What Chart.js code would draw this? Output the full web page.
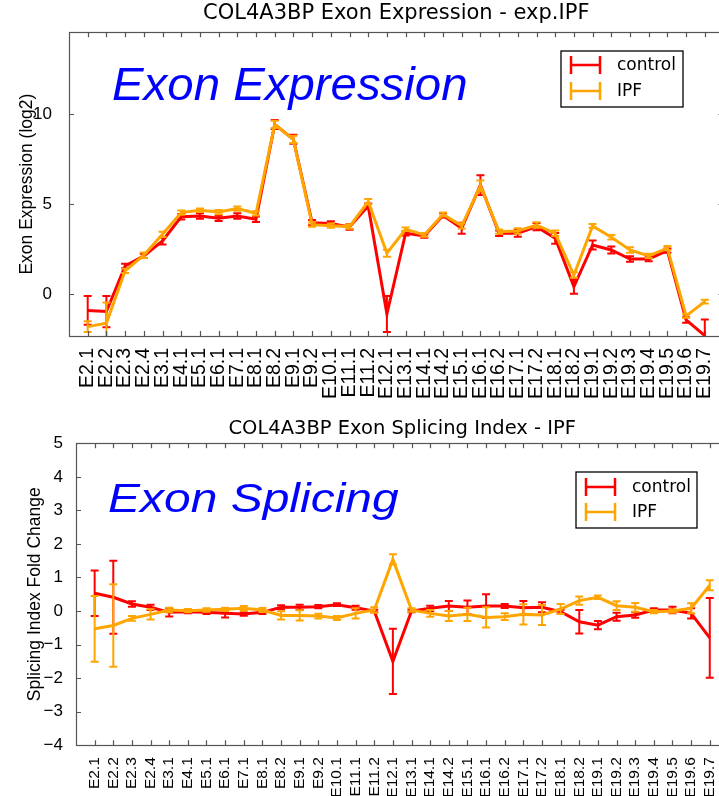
<!DOCTYPE html>
<html>
<head>
<meta charset="utf-8">
<script src="https://cdn.jsdelivr.net/npm/chart.js@4.4.1/dist/chart.umd.min.js"></script>
<style>
  html, body { margin: 0; padding: 0; background: #fff; overflow: hidden; width: 719px; height: 796px; }
  canvas { position: absolute; left: 0; }
  #expr { top: 0; }
  #splice { top: 400px; }
</style>
</head>
<body>
<canvas id="expr" width="740" height="400"></canvas>
<canvas id="splice" width="740" height="396"></canvas>
<script>
// exon ids along the x axis
const exons = ['E2.1', 'E2.2', 'E2.3', 'E2.4', 'E3.1', 'E4.1', 'E5.1', 'E6.1', 'E7.1', 'E8.1',
  'E8.2', 'E9.1', 'E9.2', 'E10.1', 'E11.1', 'E11.2', 'E12.1', 'E13.1', 'E14.1', 'E14.2',
  'E15.1', 'E16.1', 'E16.2', 'E17.1', 'E17.2', 'E18.1', 'E18.2', 'E19.1', 'E19.2', 'E19.3',
  'E19.4', 'E19.5', 'E19.6', 'E19.7'];

// exon expression (log2)
const exprControl = [-0.9, -0.96, 1.57, 2.13, 2.96, 4.31, 4.35, 4.22, 4.35, 4.17,
  9.44, 8.61, 3.98, 3.94, 3.74, 4.9, -1.1, 3.39, 3.24, 4.38,
  3.67, 6.07, 3.39, 3.39, 3.76, 3.11, 0.43, 2.74, 2.46, 1.96,
  1.96, 2.43, -1.43, -2.3];
const exprControlErr = [0.8, 0.87, 0.12, 0.12, 0.2, 0.15, 0.15, 0.15, 0.15, 0.15,
  0.25, 0.25, 0.15, 0.12, 0.15, 0.15, 1.0, 0.12, 0.1, 0.12,
  0.3, 0.55, 0.15, 0.2, 0.2, 0.3, 0.4, 0.25, 0.2, 0.15,
  0.12, 0.12, 0.15, 0.9];
const exprIPF = [-1.8, -1.61, 1.3, 2.17, 3.33, 4.54, 4.67, 4.57, 4.76, 4.5,
  9.44, 8.61, 3.87, 3.81, 3.76, 5.15, 2.28, 3.61, 3.3, 4.44,
  3.8, 6.02, 3.48, 3.52, 3.85, 3.39, 1.07, 3.8, 3.17, 2.46,
  2.13, 2.56, -1.2, -0.41];
const exprIPFErr = [0.3, 1.15, 0.12, 0.15, 0.15, 0.12, 0.1, 0.12, 0.12, 0.12,
  0.2, 0.2, 0.12, 0.12, 0.12, 0.15, 0.2, 0.1, 0.1, 0.1,
  0.15, 0.3, 0.12, 0.15, 0.15, 0.15, 0.15, 0.1, 0.12, 0.15,
  0.12, 0.12, 0.1, 0.1];
const exprTicks = [0, 5, 10];

// splicing index fold change
const spliceControl = [0.53, 0.41, 0.21, 0.11, -0.04, -0.02, -0.04, -0.07, -0.09, -0.04,
  0.11, 0.11, 0.13, 0.19, 0.1, 0, -1.5, 0, 0.08, 0.15,
  0.11, 0.15, 0.15, 0.1, 0.11, -0.02, -0.32, -0.42, -0.17, -0.12,
  0.03, 0.03, -0.07, -0.8];
const spliceControlErr = [0.68, 1.09, 0.08, 0.08, 0.12, 0.05, 0.05, 0.12, 0.05, 0.05,
  0.06, 0.08, 0.05, 0.04, 0.06, 0.04, 0.97, 0.04, 0.08, 0.15,
  0.2, 0.35, 0.06, 0.2, 0.15, 0.06, 0.35, 0.12, 0.12, 0.08,
  0.05, 0.1, 0.15, 1.19];
const spliceIPF = [-0.53, -0.43, -0.22, -0.1, 0.03, 0.01, 0.03, 0.05, 0.08, 0.03,
  -0.13, -0.13, -0.15, -0.21, -0.07, 0.03, 1.54, 0.03, -0.07, -0.15,
  -0.1, -0.19, -0.17, -0.1, -0.12, 0.06, 0.31, 0.41, 0.16, 0.11,
  -0.02, 0, 0.08, 0.77];
const spliceIPFErr = [0.98, 1.23, 0.07, 0.15, 0.07, 0.05, 0.05, 0.05, 0.07, 0.06,
  0.12, 0.15, 0.07, 0.06, 0.15, 0.08, 0.15, 0.05, 0.1, 0.15,
  0.2, 0.3, 0.1, 0.3, 0.3, 0.15, 0.12, 0.05, 0.13, 0.13,
  0.05, 0.05, 0.15, 0.15];
const spliceTicks = [-4, -3, -2, -1, 0, 1, 2, 3, 4, 5];

const RED = '#ff0000';
const ORANGE = '#ffa500';

// error bars, matplotlib style box with inward ticks, big label and legend
const decor = {
  id: 'decor',
  afterDatasetDraw(chart, args) {
    const ds = chart.data.datasets[args.index];
    const yScale = chart.scales.y;
    const a = chart.chartArea;
    const ctx = chart.ctx;
    ctx.save();
    ctx.beginPath();
    ctx.rect(a.left, a.top, a.right - a.left, a.bottom - a.top);
    ctx.clip();
    ctx.strokeStyle = ds.borderColor;
    ctx.lineWidth = 2;
    args.meta.data.forEach((pt, i) => {
      const v = ds.data[i].y, e = ds.errors[i];
      const y1 = yScale.getPixelForValue(v + e);
      const y2 = yScale.getPixelForValue(v - e);
      ctx.beginPath();
      ctx.moveTo(pt.x, y1); ctx.lineTo(pt.x, y2);
      ctx.moveTo(pt.x - 4, y1); ctx.lineTo(pt.x + 4, y1);
      ctx.moveTo(pt.x - 4, y2); ctx.lineTo(pt.x + 4, y2);
      ctx.stroke();
    });
    ctx.restore();
  },
  afterDatasetsDraw(chart) {
    const ctx = chart.ctx;
    const { left, right, top, bottom } = chart.chartArea;
    const xs = chart.scales.x, ys = chart.scales.y;
    ctx.save();
    ctx.strokeStyle = '#555';
    ctx.lineWidth = 1.2;
    ctx.strokeRect(Math.round(left) + 0.5, Math.round(top) + 0.5, Math.round(right - left), Math.round(bottom - top));
    ctx.beginPath();
    xs.ticks.forEach(t => {
      const px = Math.round(xs.getPixelForValue(t.value)) + 0.5;
      ctx.moveTo(px, bottom); ctx.lineTo(px, bottom - 5);
      ctx.moveTo(px, top); ctx.lineTo(px, top + 5);
    });
    ys.ticks.forEach(t => {
      const py = Math.round(ys.getPixelForValue(t.value)) + 0.5;
      ctx.moveTo(left, py); ctx.lineTo(left + 5, py);
      ctx.moveTo(right, py); ctx.lineTo(right - 5, py);
    });
    ctx.stroke();
    ctx.restore();
  },
  afterDraw(chart, args, opts) {
    const ctx = chart.ctx;
    ctx.save();
    // big blue caption
    ctx.translate(opts.textX, opts.textY);
    ctx.scale(opts.textStretch, 1);
    ctx.fillStyle = '#0000ff';
    ctx.font = 'italic ' + opts.textSize + 'px "Liberation Sans"';
    ctx.textBaseline = 'alphabetic';
    ctx.fillText(opts.text, 0, 0);
    ctx.restore();

    // legend
    const L = opts.legend;
    ctx.save();
    ctx.fillStyle = '#fff';
    ctx.fillRect(L.x, L.y, L.w, L.h);
    ctx.strokeStyle = '#000';
    ctx.lineWidth = 1.3;
    ctx.strokeRect(L.x, L.y, L.w, L.h);
    chart.data.datasets.forEach((ds, i) => {
      const cy = L.y + L.row0 + i * L.rowH;
      const x0 = L.x + 10, x1 = L.x + 39;
      ctx.strokeStyle = ds.borderColor;
      ctx.lineWidth = 2.5;
      ctx.beginPath();
      ctx.moveTo(x0, cy); ctx.lineTo(x1, cy);
      ctx.moveTo(x0, cy - 9); ctx.lineTo(x0, cy + 9);
      ctx.moveTo(x1, cy - 9); ctx.lineTo(x1, cy + 9);
      ctx.stroke();
      ctx.fillStyle = '#000';
      ctx.font = '17px "DejaVu Sans"';
      ctx.textBaseline = 'middle';
      ctx.fillText(ds.label, L.x + 56, cy + 1);
    });
    ctx.restore();
  }
};

function makeChart(id, cfg) {
  return new Chart(document.getElementById(id), {
    type: 'line',
    data: {
      datasets: [
        { label: 'control', data: cfg.control.map((v, i) => ({ x: i, y: v })), errors: cfg.controlErr,
          borderColor: RED, backgroundColor: RED, borderWidth: 3, pointRadius: 0, tension: 0, order: 2 },
        { label: 'IPF', data: cfg.ipf.map((v, i) => ({ x: i, y: v })), errors: cfg.ipfErr,
          borderColor: ORANGE, backgroundColor: ORANGE, borderWidth: 3, pointRadius: 0, tension: 0, order: 1 }
      ]
    },
    options: {
      responsive: false,
      animation: false,
      devicePixelRatio: 1,
      layout: { padding: { left: 0, right: cfg.padRight, top: 0, bottom: 0 } },
      plugins: {
        legend: { display: false },
        tooltip: { enabled: false },
        title: {
          display: true, text: cfg.title, fullSize: false, color: '#000',
          font: { family: 'DejaVu Sans', size: cfg.titleSize, weight: 'normal', lineHeight: 1.2 },
          padding: cfg.titlePad
        },
        decor: cfg.decor
      },
      scales: {
        x: {
          type: 'linear', min: -1, max: exons.length,
          grid: { display: false }, border: { display: false },
          afterBuildTicks: s => { s.ticks = exons.map((_, i) => ({ value: i })); },
          afterFit: s => { s.height = cfg.xAxisH; },
          ticks: {
            autoSkip: false, minRotation: 90, maxRotation: 90, padding: 4, color: '#000',
            font: { family: 'Liberation Sans', size: cfg.xTickSize }, callback: v => exons[v]
          }
        },
        y: {
          min: cfg.yMin, max: cfg.yMax,
          grid: { display: false }, border: { display: false },
          afterBuildTicks: s => { s.ticks = cfg.yTicks.map(v => ({ value: v })); },
          afterFit: s => { s.width = cfg.yAxisW; },
          ticks: {
            padding: cfg.yTickPad, color: '#000', font: { family: 'Liberation Sans', size: 17 },
            callback: v => v < 0 ? '\u2212' + (-v) : String(v)
          },
          title: {
            display: true, text: cfg.yTitle, color: '#000',
            font: { family: 'Liberation Sans', size: 17.5, lineHeight: 1.2 },
            padding: { top: cfg.yTitlePad, bottom: 0 }
          }
        }
      }
    },
    plugins: [decor]
  });
}

makeChart('expr', {
  title: 'COL4A3BP Exon Expression - exp.IPF',
  titleSize: 21,
  titlePad: { top: 0.5, bottom: 6.6 },
  control: exprControl, controlErr: exprControlErr,
  ipf: exprIPF, ipfErr: exprIPFErr,
  yMin: -2.32, yMax: 14.56, yTicks: exprTicks,
  yTitle: 'Exon Expression (log2)', yTitlePad: 16.5, yTickPad: 9,
  yAxisW: 69, xAxisH: 64, padRight: 16.5, xTickSize: 19.5,
  decor: {
    text: 'Exon Expression', textX: 112, textY: 100, textSize: 46, textStretch: 1.03,
    legend: { x: 561, y: 51, w: 122, h: 56, row0: 14, rowH: 26 }
  }
});

makeChart('splice', {
  title: 'COL4A3BP Exon Splicing Index - IPF',
  titleSize: 19.5,
  titlePad: { top: 17.3, bottom: 2.6 },
  control: spliceControl, controlErr: spliceControlErr,
  ipf: spliceIPF, ipfErr: spliceIPFErr,
  yMin: -4, yMax: 5, yTicks: spliceTicks,
  yTitle: 'Splicing Index Fold Change', yTitlePad: 24.5, yTickPad: 5,
  yAxisW: 76, xAxisH: 50.8, padRight: 11.6, xTickSize: 15.5,
  decor: {
    text: 'Exon Splicing', textX: 108, textY: 112, textSize: 41, textStretch: 1.17,
    legend: { x: 576, y: 72, w: 121, h: 56, row0: 15, rowH: 25 }
  }
});
</script>
</body>
</html>
